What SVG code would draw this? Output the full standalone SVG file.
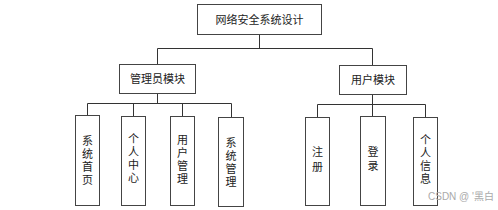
<svg xmlns="http://www.w3.org/2000/svg" width="498" height="210" viewBox="0 0 498 210">
<style>
.box{fill:#fff;stroke:#444;stroke-width:1}
.ln{stroke:#333;stroke-width:1;fill:none}
text{font-family:"Noto Sans CJK SC","Liberation Sans",sans-serif;font-size:11px;fill:#222;text-anchor:middle}
.v{writing-mode:vertical-rl;letter-spacing:2px}
.wm{font-family:"Liberation Sans","Noto Sans CJK SC",sans-serif;font-size:10px;fill:#aaa;text-anchor:start}
</style>
<rect width="498" height="210" fill="#fff"/>
<g id="connectors">
<path class="ln" d="M259.5 34V48.5M157.5 48.5H372.5M157.5 48.5V64M372.5 48.5V65"/>
<path class="ln" d="M157.5 93V103.5M87.5 103.5H231.5M87.5 103.5V115M133.5 103.5V116M182.5 103.5V116M231.5 103.5V117"/>
<path class="ln" d="M372.5 95V104.5M317.5 104.5H425.5M317.5 104.5V117M372.5 104.5V116M425.5 104.5V117"/>
</g>
<g id="root"><rect class="box" x="197.5" y="4.5" width="124" height="30"/><text x="259.5" y="23.5">网络安全系统设计</text></g>
<g id="admin"><rect class="box" x="119.5" y="64.5" width="76" height="29"/><text x="157.5" y="83">管理员模块</text></g>
<g id="user"><rect class="box" x="339.5" y="65.5" width="67" height="29"/><text x="373" y="84">用户模块</text></g>
<g id="n1"><rect class="box" x="75.5" y="115.5" width="24" height="90"/><text class="v" x="87.5" y="161">系统首页</text></g>
<g id="n2"><rect class="box" x="121.5" y="116.5" width="24" height="89"/><text class="v" x="133.5" y="159.5">个人中心</text></g>
<g id="n3"><rect class="box" x="170.5" y="116.5" width="24" height="89"/><text class="v" x="182.5" y="160">用户管理</text></g>
<g id="n4"><rect class="box" x="218.5" y="117.5" width="25" height="89"/><text class="v" x="231" y="163.5">系统管理</text></g>
<g id="n5"><rect class="box" x="305.5" y="117.5" width="24" height="88"/><text class="v" x="317.5" y="161.5" style="letter-spacing:4px">注册</text></g>
<g id="n6"><rect class="box" x="360.5" y="116.5" width="25" height="89"/><text class="v" x="373" y="160" style="letter-spacing:3px">登录</text></g>
<g id="n7"><rect class="box" x="413.5" y="117.5" width="24" height="88"/><text class="v" x="425.5" y="160.5">个人信息</text></g>
<text class="wm" x="428" y="200">CSDN @ '黑白</text>
</svg>
